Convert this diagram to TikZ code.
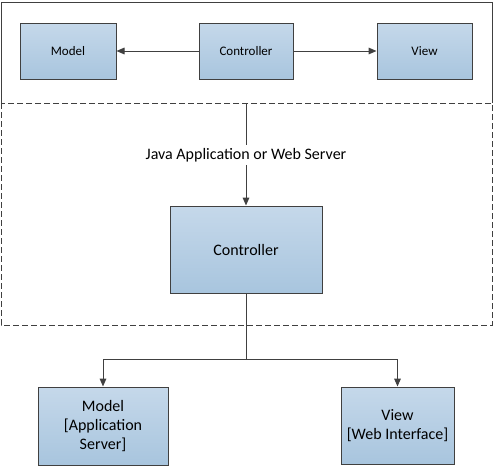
\documentclass[tikz,border=0pt]{standalone}
\usepackage{fontspec}
\setmainfont{Carlito}
\usepackage{xcolor}
\usepackage{tikz}
\usetikzlibrary{arrows.meta,shadows}
\definecolor{boxtop}{HTML}{C5D8EA}
\definecolor{boxbot}{HTML}{A8C5DE}
\definecolor{edge}{HTML}{404040}

\begin{document}
\begin{tikzpicture}[x=0.75pt,y=-0.75pt,
 box/.style={draw=edge, line width=0.75pt, top color=boxtop, bottom color=boxbot, align=center, font=\fontsize{12}{14.4}\selectfont, inner sep=0pt,
  drop shadow={opacity=0.2, shadow xshift=1pt, shadow yshift=-1pt}},
 small/.style={box, minimum height=42pt, font=\fontsize{9.75}{11}\selectfont},
 link/.style={draw=edge, line width=0.75pt},
 arr/.style={link, -{Triangle[length=6pt,width=5pt]}}]
\useasboundingbox (0,0) rectangle (495,468);
\draw[edge, line width=0.75pt] (1,103) -- (1,2) -- (492,2) -- (492,103);
\draw[edge, line width=0.75pt, dash pattern=on 4.5pt off 2.25pt] (1,103) rectangle (492,325);
\node[small, minimum width=72pt] (model) at (68,51) {Model};
\node[small, minimum width=70.5pt] (ctrl) at (246,51) {Controller};
\node[small, minimum width=71.25pt] (view) at (424.5,51) {View};
\draw[arr] (ctrl.west) -- (model.east);
\draw[arr] (ctrl.east) -- (view.west);
\coordinate (top) at (246,103);
\node[font=\fontsize{12}{14.4}\selectfont, inner sep=2pt] (server) at (246,155) {Java Application or Web Server};
\node[box, minimum width=114pt, minimum height=65.25pt] (control) at (246,249.5) {Controller};
\draw[link] (top) -- (server.north);
\draw[arr] (server.south) -- (control.north);
\node[box, minimum width=97.5pt, minimum height=58.5pt] (appmodel) at (103,426) {Model\\{[}Application\\Server{]}};
\node[box, minimum width=84.75pt, minimum height=57.75pt] (webview) at (397.5,425.5) {View\\{[}Web Interface{]}};
\coordinate (fork) at (246,359);
\draw[link] (control.south) -- (fork);
\draw[arr] (fork) -| (appmodel.north);
\draw[arr] (fork) -| (webview.north);
\end{tikzpicture}
\end{document}
